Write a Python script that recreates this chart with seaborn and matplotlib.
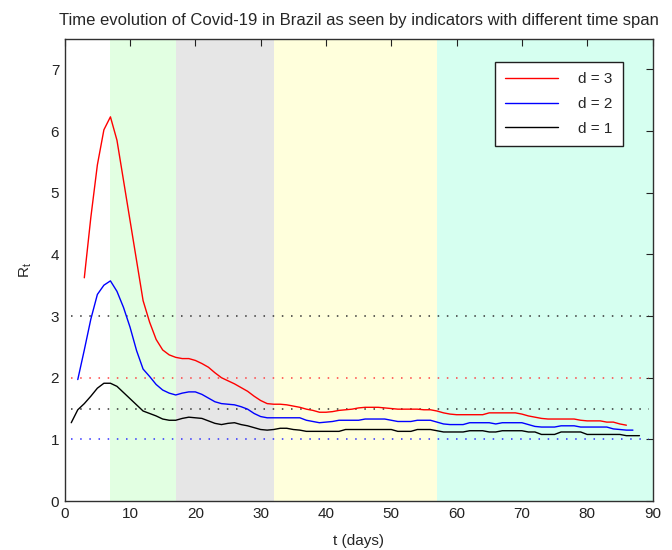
import numpy as np
import pandas as pd
import matplotlib
matplotlib.use("Agg")
import matplotlib.pyplot as plt
import seaborn as sns

# ---- data ----
days_d3 = list(range(3, 87))
rt_d3 = [3.62, 4.60, 5.45, 6.02, 6.23, 5.85, 5.20, 4.55, 3.90, 3.25,
         2.90, 2.62, 2.45, 2.37, 2.33, 2.31, 2.31, 2.28, 2.23, 2.17,
         2.08, 2.00, 1.95, 1.90, 1.84, 1.78, 1.70, 1.63, 1.58, 1.57,
         1.57, 1.56, 1.54, 1.52, 1.49, 1.47, 1.44, 1.44, 1.45, 1.47,
         1.48, 1.49, 1.51, 1.52, 1.52, 1.52, 1.51, 1.50, 1.49, 1.49,
         1.49, 1.49, 1.48, 1.48, 1.46, 1.43, 1.41, 1.40, 1.40, 1.40,
         1.40, 1.40, 1.43, 1.43, 1.43, 1.43, 1.43, 1.41, 1.38, 1.36,
         1.34, 1.33, 1.33, 1.33, 1.33, 1.33, 1.31, 1.30, 1.30, 1.30,
         1.28, 1.28, 1.25, 1.23]

days_d2 = list(range(2, 88))
rt_d2 = [1.97, 2.45, 2.95, 3.35, 3.50, 3.57, 3.40, 3.14, 2.82, 2.44,
         2.14, 2.02, 1.89, 1.80, 1.75, 1.72, 1.75, 1.77, 1.77, 1.73,
         1.67, 1.61, 1.58, 1.57, 1.56, 1.53, 1.49, 1.42, 1.37, 1.35,
         1.35, 1.35, 1.35, 1.35, 1.35, 1.31, 1.29, 1.27, 1.28, 1.29,
         1.31, 1.31, 1.31, 1.31, 1.33, 1.33, 1.33, 1.33, 1.31, 1.29,
         1.29, 1.29, 1.31, 1.31, 1.31, 1.28, 1.25, 1.24, 1.24, 1.24,
         1.27, 1.27, 1.27, 1.27, 1.25, 1.27, 1.27, 1.27, 1.27, 1.24,
         1.21, 1.20, 1.20, 1.20, 1.22, 1.22, 1.22, 1.20, 1.20, 1.20,
         1.20, 1.20, 1.17, 1.16, 1.15, 1.15]

days_d1 = list(range(1, 89))
rt_d1 = [1.27, 1.48, 1.58, 1.70, 1.83, 1.91, 1.91, 1.86, 1.76, 1.66,
         1.56, 1.46, 1.42, 1.38, 1.33, 1.31, 1.31, 1.34, 1.36, 1.35,
         1.34, 1.30, 1.26, 1.24, 1.26, 1.27, 1.24, 1.22, 1.19, 1.16,
         1.15, 1.16, 1.18, 1.18, 1.16, 1.15, 1.13, 1.13, 1.13, 1.13,
         1.13, 1.13, 1.16, 1.16, 1.16, 1.16, 1.16, 1.16, 1.16, 1.16,
         1.13, 1.13, 1.13, 1.16, 1.16, 1.16, 1.14, 1.12, 1.12, 1.12,
         1.12, 1.14, 1.14, 1.14, 1.12, 1.12, 1.14, 1.14, 1.14, 1.14,
         1.12, 1.12, 1.08, 1.08, 1.08, 1.12, 1.12, 1.12, 1.12, 1.08,
         1.08, 1.08, 1.08, 1.08, 1.08, 1.06, 1.06, 1.06]

phase_edges = [7, 17, 32, 57, 90]
phase_colors = ["#e2ffe2", "#e6e6e6", "#ffffdc", "#d6fff0"]

ref_levels = [3, 2, 1.5, 1]
ref_colors = ["#333333", "#ff4040", "#333333", "#3030ff"]

labels = ["d = 3", "d = 2", "d = 1"]
line_colors = ["#ff0000", "#0000ff", "#000000"]

title = "Time evolution of Covid-19 in Brazil as seen by indicators with different time span"

# ---- build table ----
df = pd.concat([
    pd.DataFrame({"t": days_d3, "Rt": rt_d3, "d": labels[0]}),
    pd.DataFrame({"t": days_d2, "Rt": rt_d2, "d": labels[1]}),
    pd.DataFrame({"t": days_d1, "Rt": rt_d1, "d": labels[2]}),
], ignore_index=True)

sns.set_theme(style="white")
plt.rcParams["font.family"] = ["Liberation Sans", "DejaVu Sans"]

fig = plt.figure(figsize=(6.72, 5.5), dpi=100)
ax = fig.add_axes([0.0963, 0.089, 0.8747, 0.841])

for i in range(len(phase_colors)):
    ax.axvspan(phase_edges[i], phase_edges[i + 1], color=phase_colors[i], lw=0, zorder=0)

for lvl, c in zip(ref_levels, ref_colors):
    ax.plot([1, 89.5], [lvl, lvl], ls=(0, (1, 5)), color=c, lw=1.1, zorder=1)

sns.lineplot(data=df, x="t", y="Rt", hue="d", hue_order=labels,
             palette=dict(zip(labels, line_colors)), lw=1.0, ax=ax, zorder=3)

ax.set_xlim(0, 90)
ax.set_ylim(0, 7.5)
ax.set_xticks(range(0, 91, 10))
ax.set_yticks(range(0, 8))
ax.tick_params(direction="in", length=5, width=0.8, top=True, right=True,
               labelsize=11, colors="#222222", pad=4)
for s in ax.spines.values():
    s.set_color("#303030")
    s.set_linewidth(1.0)

ax.set_xlabel("t (days)", fontsize=11, labelpad=10)
ax.set_ylabel("R$_\\mathregular{t}$", fontsize=11, labelpad=12)
ax.set_title(title, fontsize=12, pad=10)

leg = ax.legend(loc="upper right", bbox_to_anchor=(0.962, 0.965), fontsize=11,
                frameon=True, fancybox=False, handlelength=3.5, borderpad=0.65,
                labelspacing=0.7, handletextpad=1.3)
leg.get_frame().set_edgecolor("#202020")
leg.get_frame().set_linewidth(1.0)
leg.get_frame().set_facecolor("white")
leg.get_frame().set_alpha(1.0)

fig.savefig("out.png", dpi=100)
